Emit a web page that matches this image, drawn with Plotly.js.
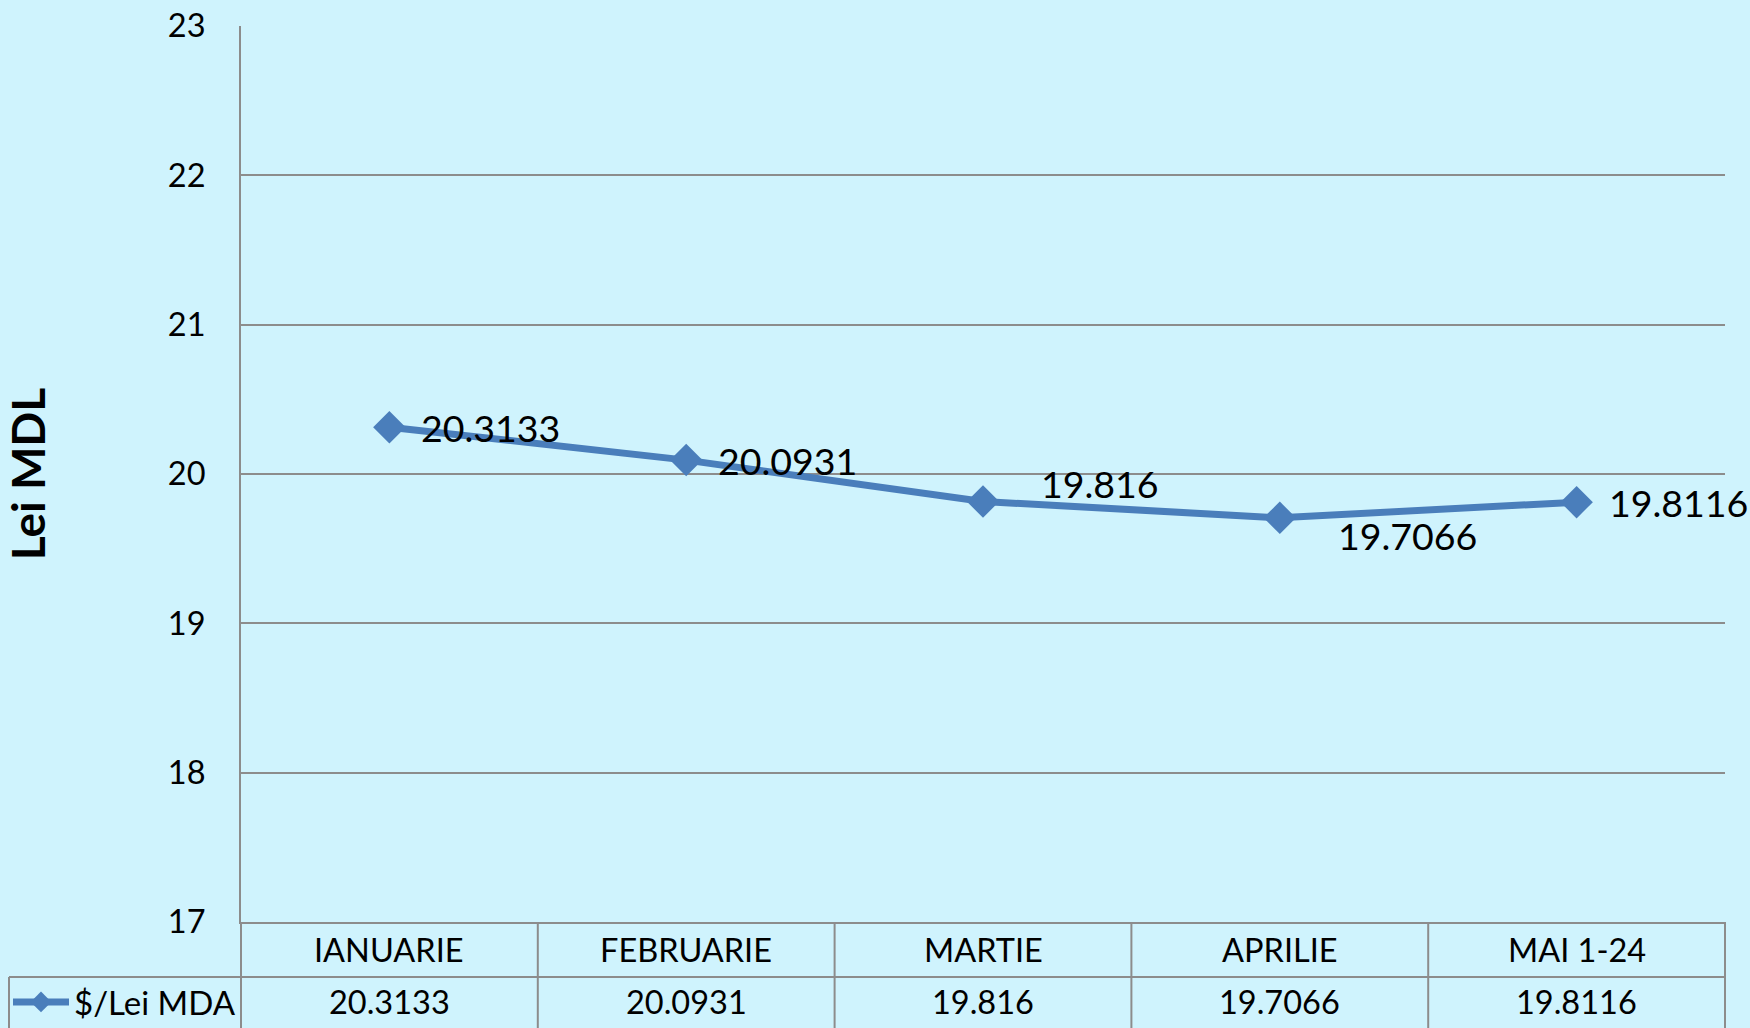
<!DOCTYPE html>
<html>
<head>
<meta charset="utf-8">
<script src="https://cdn.plot.ly/plotly-3.0.1.min.js"></script>
<style>
  html, body { margin: 0; padding: 0; background: #CFF3FD; overflow: hidden; }
  #chart { width: 1750px; height: 1028px; }
</style>
</head>
<body>
<div id="chart"></div>
<script>
// ---- data ----
const categories = ["IANUARIE", "FEBRUARIE", "MARTIE", "APRILIE", "MAI 1-24"];
const values = [20.3133, 20.0931, 19.816, 19.7066, 19.8116];
const seriesName = "$/Lei MDA";
const yTicks = [17, 18, 19, 20, 21, 22, 23];
const yTitle = "Lei MDL";

// ---- style ----
const BG = "#CFF3FD";
const BLUE = "#4A7EBB";
const GRID = "#8C8C8C";
const FONT = "Lato, 'Open Sans', sans-serif";

// label placement per point (pixel offsets from marker)
const labelShift = [
  {dx: 30, dy: 0},
  {dx: 30, dy: 0},
  {dx: 56, dy: 18},
  {dx: 56, dy: -18},
  {dx: 30, dy: 0}
];

const W = 1750, H = 1028;
const margin = {l: 241, r: 25, t: 26, b: 106, autoexpand: false};
const plotW = W - margin.l - margin.r;
const plotH = H - margin.t - margin.b;
const py = (pix) => (H - margin.b - pix) / plotH;   // pixel y -> paper y
const px = (pix) => (pix - margin.l) / plotW;       // pixel x -> paper x

const idx = categories.map((_, i) => i);

const trace = {
  type: "scatter",
  mode: "lines+markers",
  x: idx,
  y: values,
  name: seriesName,
  line: {color: BLUE, width: 7},
  marker: {symbol: "diamond", size: 25, color: BLUE},
  showlegend: true,
  hoverinfo: "skip"
};

const annotations = [];
// data labels
values.forEach((v, i) => {
  annotations.push({
    xref: "x", yref: "y", x: i, y: v,
    text: String(v), showarrow: false,
    xanchor: "left", yanchor: "middle",
    xshift: labelShift[i].dx, yshift: labelShift[i].dy,
    font: {family: FONT, size: 37.5, color: "#000"}
  });
});
// table header + values
const headerY = py(949), valueY = py(1002);
categories.forEach((c, i) => {
  annotations.push({
    xref: "x", yref: "paper", x: i, y: headerY, text: c, showarrow: false,
    xanchor: "center", yanchor: "middle",
    font: {family: FONT, size: 32.5, color: "#000"}
  });
  annotations.push({
    xref: "x", yref: "paper", x: i, y: valueY, text: String(values[i]), showarrow: false,
    xanchor: "center", yanchor: "middle",
    font: {family: FONT, size: 32.5, color: "#000"}
  });
});

// table grid lines
const shapes = [];
const lineStyle = {color: GRID, width: 2};
const yTop = py(922), yMid = py(977), yBot = py(1029);
const n = categories.length;
for (let k = 0; k <= n; k++) {
  shapes.push({type: "line", xref: "paper", yref: "paper",
    x0: k / n, x1: k / n, y0: yTop, y1: yBot, line: lineStyle});
}
shapes.push({type: "line", xref: "paper", yref: "paper",
  x0: px(9), x1: 1, y0: yMid, y1: yMid, line: lineStyle});
shapes.push({type: "line", xref: "paper", yref: "paper",
  x0: px(9), x1: px(9), y0: yMid, y1: yBot, line: lineStyle});

const layout = {
  width: W, height: H,
  margin: margin,
  paper_bgcolor: BG,
  plot_bgcolor: BG,
  font: {family: FONT, color: "#000"},
  showlegend: true,
  legend: {
    x: px(8), y: py(1002), xanchor: "left", yanchor: "middle",
    bgcolor: "rgba(0,0,0,0)", borderwidth: 0,
    font: {family: FONT, size: 33, color: "#000"},
    itemwidth: 56, tracegroupgap: 0
  },
  xaxis: {
    range: [-0.5, n - 0.5],
    showgrid: false, zeroline: false,
    showticklabels: false, ticks: "",
    showline: true, linecolor: GRID, linewidth: 2,
    fixedrange: true
  },
  yaxis: {
    range: [17, 23],
    tickvals: yTicks,
    ticktext: yTicks.map(String),
    showgrid: true, gridcolor: GRID, gridwidth: 2,
    zeroline: false,
    showline: true, linecolor: GRID, linewidth: 2,
    ticks: "", ticklabelstandoff: 27,
    tickfont: {family: FONT, size: 32.5, color: "#000"},
    title: {text: yTitle, standoff: 112,
      font: {family: FONT, size: 46, color: "#000", weight: "bold"}},
    automargin: false,
    fixedrange: true
  },
  annotations: annotations,
  shapes: shapes
};

Plotly.newPlot("chart", [trace], layout, {displayModeBar: false, staticPlot: true});
</script>
</body>
</html>
